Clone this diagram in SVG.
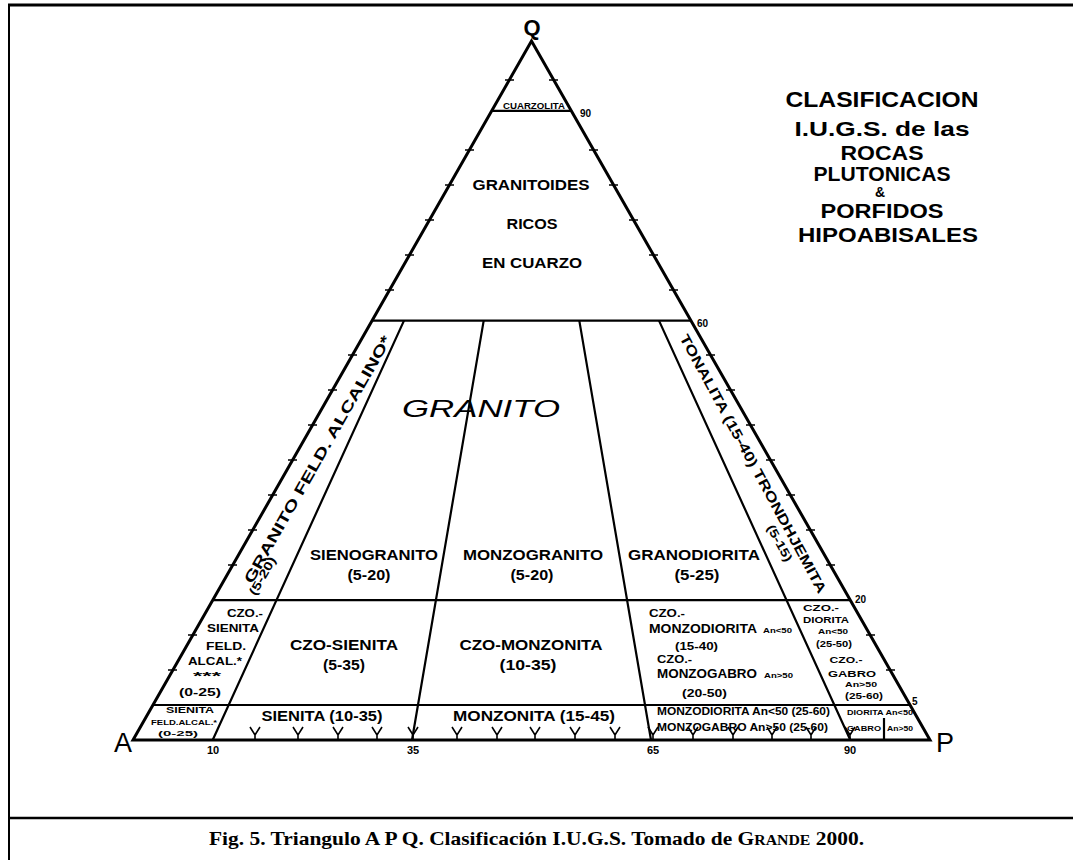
<svg xmlns="http://www.w3.org/2000/svg" width="1073" height="860" viewBox="0 0 1073 860">
<style>
.e{stroke:#000;stroke-width:3;fill:none;stroke-linejoin:miter}
.l{stroke:#000;stroke-width:2.2;fill:none}
.tk{stroke:#000;stroke-width:1.6;fill:none}
.t{font-family:"Liberation Sans",Arial,sans-serif;font-weight:bold;fill:#000;text-anchor:middle}
.s{font-family:"Liberation Sans",Arial,sans-serif;font-weight:bold;fill:#000;text-anchor:start}
.v{font-family:"Liberation Sans",Arial,sans-serif;fill:#000;text-anchor:middle}
</style>
<rect width="1073" height="860" fill="#fff"/>
<g id="frame">
<path d="M8,5 H1073" stroke="#000" stroke-width="3"/>
<path d="M9,4 V860" stroke="#000" stroke-width="2"/>
<path d="M9,818 H1073" stroke="#000" stroke-width="2.5"/>
</g>
<g id="connectors">
<polygon class="e" points="133,740 531.5,41 930,740"/>
<path class="l" d="M491.7,110.9 H571.4"/>
<path class="l" stroke-width="2.6" d="M372.1,320.6 H690.9"/>
<path class="l" d="M212.7,600.2 H850.3"/>
<path class="l" stroke-width="1.6" d="M152.9,705 H910.1"/>
<path class="l" d="M404,320.6 L212.7,740 M483.7,320.6 L412,740 M579.3,320.6 L651,740 M659,320.6 L850.3,740"/>
<path class="l" stroke-width="1.4" d="M884,718 V740"/>
<path class="tk" d="M505,80 h9 M465,150 h9 M445,185 h9 M425,220 h9 M405,255 h9 M385,290 h9 M348,355 h9 M328,390 h9 M308,425 h9 M288,460 h9 M268,495 h9 M248,530 h9 M228,565 h9 M188,635 h9 M168,670 h9"/>
<path class="tk" d="M549,80 h9 M589,150 h9 M609,185 h9 M629,220 h9 M649,255 h9 M669,290 h9 M706,355 h9 M726,390 h9 M746,425 h9 M766,460 h9 M786,495 h9 M806,530 h9 M826,565 h9 M866,635 h9 M886,670 h9"/>
<path class="tk" stroke-width="2" d="M250,727 l5,8 l5,-8 M255,735 v5 M293,727 l5,8 l5,-8 M298,735 v5 M333,727 l5,8 l5,-8 M338,735 v5 M372,727 l5,8 l5,-8 M377,735 v5 M408,727 l5,8 l5,-8 M413,735 v5 M452,727 l5,8 l5,-8 M457,735 v5 M492,727 l5,8 l5,-8 M497,735 v5 M530,727 l5,8 l5,-8 M535,735 v5 M570,727 l5,8 l5,-8 M575,735 v5 M610,727 l5,8 l5,-8 M615,735 v5 M648,727 l5,8 l5,-8 M653,735 v5 M688,727 l5,8 l5,-8 M693,735 v5 M728,727 l5,8 l5,-8 M733,735 v5 M767,727 l5,8 l5,-8 M772,735 v5 M806,727 l5,8 l5,-8 M811,735 v5 M845,727 l5,8 l5,-8 M850,735 v5"/>
</g>
<g id="vertices">
<text class="t" x="532" y="35" font-size="22">Q</text>
<text class="v" x="123" y="752" font-size="27">A</text>
<text class="v" x="945" y="752" font-size="27">P</text>
</g>
<g id="scale">
<text class="s" x="580" y="117" font-size="10">90</text>
<text class="s" x="697" y="327" font-size="10">60</text>
<text class="s" x="855" y="603" font-size="10">20</text>
<text class="s" x="912" y="705" font-size="10">5</text>
<text class="t" x="213" y="754" font-size="11">10</text>
<text class="t" x="413" y="754" font-size="11">35</text>
<text class="t" x="653" y="754" font-size="11">65</text>
<text class="t" x="850" y="754" font-size="11">90</text>
</g>
<g id="title">
<text class="t" x="882" y="107" font-size="22" textLength="193" lengthAdjust="spacingAndGlyphs">CLASIFICACION</text>
<text class="t" x="882" y="136" font-size="21" textLength="175" lengthAdjust="spacingAndGlyphs">I.U.G.S. de las</text>
<text class="t" x="882" y="160" font-size="20" textLength="83" lengthAdjust="spacingAndGlyphs">ROCAS</text>
<text class="t" x="882" y="181" font-size="20" textLength="137" lengthAdjust="spacingAndGlyphs">PLUTONICAS</text>
<text class="t" x="880" y="197" font-size="14">&amp;</text>
<text class="t" x="882" y="218" font-size="20" textLength="123" lengthAdjust="spacingAndGlyphs">PORFIDOS</text>
<text class="t" x="888" y="242" font-size="21" textLength="180" lengthAdjust="spacingAndGlyphs">HIPOABISALES</text>
</g>
<g id="cuarzolita">
<text class="t" x="534" y="109" font-size="9" textLength="62" lengthAdjust="spacingAndGlyphs">CUARZOLITA</text>
</g>
<g id="granitoides">
<text class="t" x="531" y="190" font-size="15" textLength="117" lengthAdjust="spacingAndGlyphs">GRANITOIDES</text>
<text class="t" x="532" y="229" font-size="15" textLength="51" lengthAdjust="spacingAndGlyphs">RICOS</text>
<text class="t" x="532" y="268" font-size="15" textLength="100" lengthAdjust="spacingAndGlyphs">EN CUARZO</text>
</g>
<g id="granito">
<text class="v" x="481" y="417" font-size="24" font-style="italic" textLength="158" lengthAdjust="spacingAndGlyphs">GRANITO</text>
</g>
<g id="granito-feld-alcalino">
<text class="t" transform="translate(322,462) rotate(-60.3)" font-size="15" textLength="282" lengthAdjust="spacingAndGlyphs">GRANITO FELD. ALCALINO*</text>
<text class="t" transform="translate(266,578) rotate(-60.3)" font-size="12" textLength="42" lengthAdjust="spacingAndGlyphs">(5-20)</text>
</g>
<g id="tonalita">
<text class="t" transform="translate(749,466) rotate(61.5)" font-size="14" textLength="292" lengthAdjust="spacingAndGlyphs">TONALITA (15-40) TRONDHJEMITA</text>
<text class="t" transform="translate(776,545) rotate(61.5)" font-size="12" textLength="40" lengthAdjust="spacingAndGlyphs">(5-15)</text>
</g>
<g id="sienogranito">
<text class="t" x="374" y="560" font-size="14" textLength="128" lengthAdjust="spacingAndGlyphs">SIENOGRANITO</text>
<text class="t" x="369" y="580" font-size="14" textLength="43" lengthAdjust="spacingAndGlyphs">(5-20)</text>
</g>
<g id="monzogranito">
<text class="t" x="533" y="560" font-size="14" textLength="140" lengthAdjust="spacingAndGlyphs">MONZOGRANITO</text>
<text class="t" x="532" y="580" font-size="14" textLength="43" lengthAdjust="spacingAndGlyphs">(5-20)</text>
</g>
<g id="granodiorita">
<text class="t" x="694" y="560" font-size="14" textLength="132" lengthAdjust="spacingAndGlyphs">GRANODIORITA</text>
<text class="t" x="697" y="580" font-size="14" textLength="45" lengthAdjust="spacingAndGlyphs">(5-25)</text>
</g>
<g id="czo-sienita-feld">
<text class="t" x="245" y="617" font-size="11" textLength="36" lengthAdjust="spacingAndGlyphs">CZO.-</text>
<text class="t" x="233" y="632" font-size="11" textLength="52" lengthAdjust="spacingAndGlyphs">SIENITA</text>
<text class="t" x="226" y="650" font-size="11" textLength="40" lengthAdjust="spacingAndGlyphs">FELD.</text>
<text class="t" x="215" y="665" font-size="11" textLength="54" lengthAdjust="spacingAndGlyphs">ALCAL.*</text>
<text class="t" x="207" y="680" font-size="11" textLength="28" lengthAdjust="spacingAndGlyphs">***</text>
<text class="t" x="200" y="696" font-size="11" textLength="42" lengthAdjust="spacingAndGlyphs">(0-25)</text>
</g>
<g id="czo-sienita">
<text class="t" x="344" y="650" font-size="14" textLength="108" lengthAdjust="spacingAndGlyphs">CZO-SIENITA</text>
<text class="t" x="344" y="670" font-size="14" textLength="42" lengthAdjust="spacingAndGlyphs">(5-35)</text>
</g>
<g id="czo-monzonita">
<text class="t" x="531" y="650" font-size="14" textLength="143" lengthAdjust="spacingAndGlyphs">CZO-MONZONITA</text>
<text class="t" x="528" y="670" font-size="14" textLength="57" lengthAdjust="spacingAndGlyphs">(10-35)</text>
</g>
<g id="czo-monzodiorita">
<text class="s" x="649" y="617" font-size="11" textLength="36" lengthAdjust="spacingAndGlyphs">CZO.-</text>
<text class="s" x="649" y="633" font-size="12" textLength="108" lengthAdjust="spacingAndGlyphs">MONZODIORITA</text>
<text class="s" x="763" y="633" font-size="8" textLength="29" lengthAdjust="spacingAndGlyphs">An&lt;50</text>
<text class="s" x="675" y="650" font-size="11" textLength="43" lengthAdjust="spacingAndGlyphs">(15-40)</text>
<text class="s" x="657" y="663" font-size="11" textLength="35" lengthAdjust="spacingAndGlyphs">CZO.-</text>
<text class="s" x="657" y="678" font-size="12" textLength="100" lengthAdjust="spacingAndGlyphs">MONZOGABRO</text>
<text class="s" x="764" y="678" font-size="8" textLength="29" lengthAdjust="spacingAndGlyphs">An&gt;50</text>
<text class="s" x="682" y="697" font-size="11" textLength="45" lengthAdjust="spacingAndGlyphs">(20-50)</text>
</g>
<g id="czo-diorita">
<text class="t" x="821" y="611" font-size="9" textLength="36" lengthAdjust="spacingAndGlyphs">CZO.-</text>
<text class="t" x="826" y="623" font-size="9" textLength="46" lengthAdjust="spacingAndGlyphs">DIORITA</text>
<text class="t" x="833" y="634" font-size="8" textLength="30" lengthAdjust="spacingAndGlyphs">An&lt;50</text>
<text class="t" x="834" y="647" font-size="9" textLength="36" lengthAdjust="spacingAndGlyphs">(25-50)</text>
<text class="t" x="846" y="663" font-size="9" textLength="33" lengthAdjust="spacingAndGlyphs">CZO.-</text>
<text class="t" x="852" y="677" font-size="9" textLength="48" lengthAdjust="spacingAndGlyphs">GABRO</text>
<text class="t" x="861" y="687" font-size="8" textLength="32" lengthAdjust="spacingAndGlyphs">An&gt;50</text>
<text class="t" x="864" y="699" font-size="9" textLength="38" lengthAdjust="spacingAndGlyphs">(25-60)</text>
</g>
<g id="sienita-feld">
<text class="t" x="190" y="713" font-size="9" textLength="48" lengthAdjust="spacingAndGlyphs">SIENITA</text>
<text class="t" x="184" y="725" font-size="8" textLength="66" lengthAdjust="spacingAndGlyphs">FELD.ALCAL.*</text>
<text class="t" x="178" y="736" font-size="8" textLength="40" lengthAdjust="spacingAndGlyphs">(0-25)</text>
</g>
<g id="sienita">
<text class="t" x="322" y="721" font-size="14" textLength="121" lengthAdjust="spacingAndGlyphs">SIENITA (10-35)</text>
</g>
<g id="monzonita">
<text class="t" x="534" y="721" font-size="14" textLength="162" lengthAdjust="spacingAndGlyphs">MONZONITA (15-45)</text>
</g>
<g id="monzodiorita-monzogabro">
<text class="s" x="657" y="715" font-size="10" textLength="173" lengthAdjust="spacingAndGlyphs">MONZODIORITA An&lt;50 (25-60)</text>
<text class="s" x="657" y="731" font-size="10" textLength="171" lengthAdjust="spacingAndGlyphs">MONZOGABRO An&gt;50 (25-60)</text>
</g>
<g id="diorita-gabro">
<text class="s" x="847" y="715" font-size="8" textLength="66" lengthAdjust="spacingAndGlyphs">DIORITA An&lt;50</text>
<text class="s" x="847" y="731" font-size="8" textLength="34" lengthAdjust="spacingAndGlyphs">GABRO</text>
<text class="s" x="887" y="731" font-size="7" textLength="26" lengthAdjust="spacingAndGlyphs">An&gt;50</text>
</g>
<g id="caption">
<text x="536.5" y="845" font-family="'Liberation Serif','Times New Roman',serif" font-weight="bold" font-size="19" text-anchor="middle" textLength="655" lengthAdjust="spacingAndGlyphs">Fig. 5. Triangulo A P Q. Clasificación I.U.G.S. Tomado de G<tspan font-size="14">RANDE</tspan> 2000.</text>
</g>
</svg>
